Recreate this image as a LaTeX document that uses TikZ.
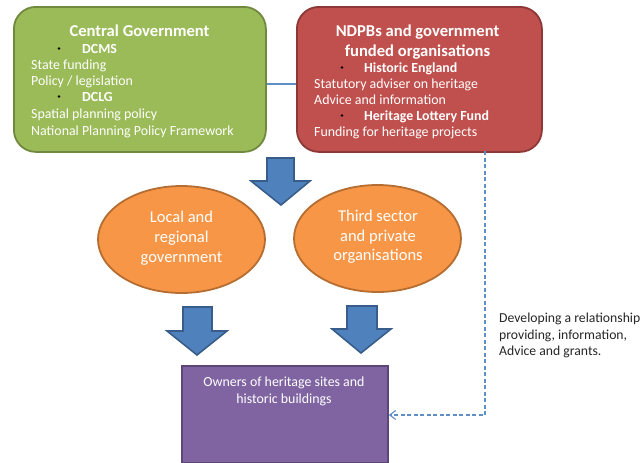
\documentclass[tikz,border=0pt]{standalone}
\usepackage{fontspec}
\setmainfont{Carlito}
\usetikzlibrary{arrows.meta,shapes.geometric}
\definecolor{gfill}{HTML}{9BBB59}
\definecolor{gline}{HTML}{71893F}
\definecolor{rfill}{HTML}{C0504D}
\definecolor{rline}{HTML}{8C3836}
\definecolor{ofill}{HTML}{F79646}
\definecolor{oline}{HTML}{B66D31}
\definecolor{pfill}{HTML}{8064A2}
\definecolor{pline}{HTML}{5C4776}
\definecolor{bfill}{HTML}{4F81BD}
\definecolor{bline}{HTML}{385D8A}
\definecolor{linkblue}{HTML}{5F8FC8}
\tikzset{
 x=1pt,y=-1pt,
 gov/.style={draw,line width=1.8pt,rounded corners=22pt,anchor=north west,inner sep=0pt},
 oval/.style={ellipse,draw=oline,fill=ofill,line width=1.8pt,inner sep=0pt,minimum width=167pt,minimum height=107pt},
 blockarrow/.style={draw=bline,fill=bfill,line width=1.6pt,line join=miter},
 linkline/.style={draw=linkblue,line width=1.1pt},
 lab/.style={text=white,font=\fontsize{13.9pt}{16.5pt}\selectfont,anchor=base west,inner sep=0pt,align=left},
 ttl/.style={text=white,font=\fontsize{16.6pt}{20pt}\selectfont\bfseries,anchor=base,inner sep=0pt,align=center},
 bul/.style={text=white,font=\fontsize{13.9pt}{16.5pt}\selectfont\bfseries,anchor=base west,inner sep=0pt},
 dot/.style={circle,fill=black,inner sep=0pt,minimum size=2.8pt},
 ovaltext/.style={text=white,inner sep=0pt,anchor=base,font=\fontsize{16.5pt}{20pt}\selectfont},
 devtext/.style={anchor=base west,inner sep=0pt,text=black!85,font=\fontsize{13.7pt}{16pt}\selectfont},
}
\begin{document}
\begin{tikzpicture}
\useasboundingbox (0,0) rectangle (643,463);
\node[gov,draw=gline,fill=gfill,minimum width=252pt,minimum height=145pt] (central) at (13,6) {};
\node[gov,draw=rline,fill=rfill,minimum width=245pt,minimum height=145pt] (ndpb) at (296,6) {};
\coordinate (linky) at (0,84);
\draw[linkline] (central.east |- linky) -- (ndpb.west |- linky);
% central text
\node[ttl] (t1) at (139.5,36) {Central Government};
\node[dot] (d1) at (59,48.5) {};
\node[bul] (b1) at (82,53) {DCMS};
\node[lab] (c1) at (31,69) {State funding};
\node[lab] (c2) at (31,85) {Policy / legislation};
\node[dot] (d2) at (59,96.5) {};
\node[bul] (b2) at (82,101) {DCLG};
\node[lab] (c3) at (31,118) {Spatial planning policy};
\node[lab] (c4) at (31,135) {National Planning Policy Framework};
% ndpb text
\node[ttl] (t2a) at (417.5,36) {NDPBs and government};
\node[ttl] (t2b) at (417.5,56) {funded organisations};
\node[dot] (d3) at (342,67.5) {};
\node[bul] (b3) at (364,72) {Historic England};
\node[lab] (n1) at (314,88) {Statutory adviser on heritage};
\node[lab] (n2) at (314,104) {Advice and information};
\node[dot] (d4) at (342,115.5) {};
\node[bul] (b4) at (364,120) {Heritage Lottery Fund};
\node[lab] (n3) at (314,136) {Funding for heritage projects};
% ellipses
\node[oval] (lrg) at (181.5,239.5) {};
\node[oval] (tsp) at (377.5,238.5) {};
\node[ovaltext] (l1) at (181.5,222) {Local and};
\node[ovaltext] (l2) at (181.5,242) {regional};
\node[ovaltext] (l3) at (181.5,262) {government};
\node[ovaltext] (r1) at (378,221) {Third sector};
\node[ovaltext] (r2) at (378,241) {and private};
\node[ovaltext] (r3) at (378,260) {organisations};
% block arrows
\draw[blockarrow] (267,158) -- (294,158) -- (294,181) -- (310,181) -- (281,205) -- (251,181) -- (267,181) -- cycle;
\draw[blockarrow] (183,307) -- (212,307) -- (212,331) -- (227,331) -- (197,355) -- (167,331) -- (183,331) -- cycle;
\draw[blockarrow] (347,306) -- (377,306) -- (377,329) -- (391,329) -- (361,353) -- (332,329) -- (347,329) -- cycle;
% owners
\node[draw=pline,fill=pfill,line width=1.8pt,anchor=north west,inner sep=0pt,minimum width=206pt,minimum height=97pt] (own) at (181,365) {};
\node[lab,anchor=base] (o1) at (284,386) {Owners of heritage sites and};
\node[lab,anchor=base] (o2) at (284,403) {historic buildings};
\coordinate (dstart) at (485,151);
\coordinate (dcorner) at (485,415);
\draw[linkline,dash pattern=on 4pt off 2.5pt,-{Straight Barb[length=6pt,width=9pt]}] (dstart) -- (dcorner) -- (own.east |- dcorner);
\node[devtext] (dev1) at (499,322) {Developing a relationship};
\node[devtext] (dev2) at (499,339) {providing, information,};
\node[devtext] (dev3) at (499,355) {Advice and grants.};
\end{tikzpicture}
\end{document}
